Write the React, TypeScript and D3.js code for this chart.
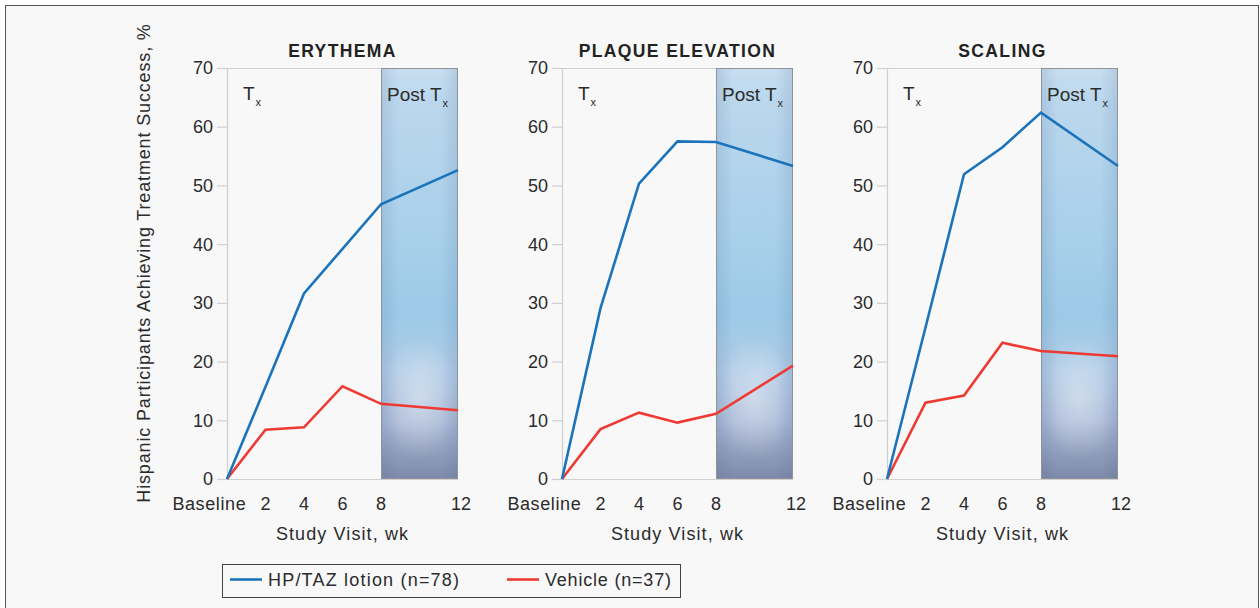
import React, { useEffect, useRef } from 'react';
import * as d3 from 'd3';

// study visits (weeks) and their axis labels
const weeks = [0, 2, 4, 6, 8, 12];
const weekLabels = ['Baseline', '2', '4', '6', '8', '12'];
const yTicks = [0, 10, 20, 30, 40, 50, 60, 70];

const panelTitles = ['ERYTHEMA', 'PLAQUE ELEVATION', 'SCALING'];

// % of participants achieving treatment success
const hpTazErythema = [0, 15.7, 31.6, 39.2, 46.8, 52.6];
const vehicleErythema = [0, 8.4, 8.8, 15.8, 12.8, 11.7];
const hpTazPlaque = [0, 29.1, 50.3, 57.5, 57.4, 53.3];
const vehiclePlaque = [0, 8.5, 11.3, 9.6, 11.1, 19.3];
const hpTazScaling = [0, 25.8, 51.9, 56.5, 62.4, 53.3];
const vehicleScaling = [0, 13.0, 14.2, 23.2, 21.8, 20.9];

const seriesNames = ['HP/TAZ lotion (n=78)', 'Vehicle (n=37)'];
const postTxStart = 8;

const WIDTH = 1260;
const HEIGHT = 608;
const BLUE = '#1b74bb';
const RED = '#ee3a32';
const FONT = '"Liberation Sans", Arial, sans-serif';
const TEXT = '#2b2b2b';

const App: React.FC = () => {
  const svgRef = useRef<SVGSVGElement>(null);

  useEffect(() => {
    if (!svgRef.current) return;
    const svg = d3.select(svgRef.current);
    svg.selectAll('*').remove();

    const panels = [
      { title: panelTitles[0], hp: hpTazErythema, veh: vehicleErythema },
      { title: panelTitles[1], hp: hpTazPlaque, veh: vehiclePlaque },
      { title: panelTitles[2], hp: hpTazScaling, veh: vehicleScaling }
    ];

    // gradient for the post-treatment band
    const defs = svg.append('defs');
    const lin = defs.append('linearGradient')
      .attr('id', 'postV').attr('x1', 0).attr('y1', 0).attr('x2', 0).attr('y2', 1);
    [
      ['0%', '#c8ddef'], ['8%', '#bbd7ed'], ['40%', '#a9d0ea'], ['60%', '#9ccae7'],
      ['74%', '#b0cbe6'], ['86%', '#a8b8d6'], ['100%', '#7d89a8']
    ].forEach(([o, c]) => lin.append('stop').attr('offset', o).attr('stop-color', c));

    const rad = defs.append('radialGradient')
      .attr('id', 'postGlow').attr('cx', 0.5).attr('cy', 0.8).attr('r', 0.5)
      .attr('gradientTransform', 'translate(0.5,0.8) scale(1,0.3) translate(-0.5,-0.8)');
    rad.append('stop').attr('offset', '0%').attr('stop-color', '#ffffff').attr('stop-opacity', 0.42);
    rad.append('stop').attr('offset', '100%').attr('stop-color', '#ffffff').attr('stop-opacity', 0);

    const edge = defs.append('linearGradient')
      .attr('id', 'postEdge').attr('x1', 0).attr('y1', 0).attr('x2', 1).attr('y2', 0);
    [
      ['0%', 0.14], ['22%', 0], ['78%', 0], ['100%', 0.14]
    ].forEach(([o, a]) => edge.append('stop').attr('offset', o as string)
      .attr('stop-color', '#3a5585').attr('stop-opacity', a as number));

    // outer frame
    svg.append('rect')
      .attr('x', 5.5).attr('y', 5.5).attr('width', 1253).attr('height', 620)
      .attr('fill', '#f8f8f8').attr('stroke', '#555').attr('stroke-width', 1);

    const top = 68;
    const bottom = 479;
    const lefts = [227, 562, 887];
    const plotW = 231;

    const yScale = d3.scaleLinear().domain([0, 70]).range([bottom, top]);

    panels.forEach((p, i) => {
      const x = d3.scaleLinear().domain([0, 12]).range([lefts[i], lefts[i] + plotW]);
      const g = svg.append('g');

      // post Tx band
      const bx = x(postTxStart);
      const bw = x(12) - bx;
      ['url(#postV)', 'url(#postGlow)', 'url(#postEdge)'].forEach(f => {
        g.append('rect').attr('x', bx).attr('y', top).attr('width', bw)
          .attr('height', bottom - top).attr('fill', f);
      });
      g.append('rect').attr('x', bx + 0.5).attr('y', top + 0.5).attr('width', bw - 1)
        .attr('height', bottom - top - 1).attr('fill', 'none')
        .attr('stroke', '#8e939c').attr('stroke-width', 1);

      // axis frame
      g.append('path')
        .attr('d', `M${x(0) - 10},${bottom + 0.5}H${x(12)}M${x(0) + 0.5},${bottom}V${top + 0.5}H${bx}`)
        .attr('fill', 'none').attr('stroke', '#cfcfcf').attr('stroke-width', 1.2);

      // y ticks
      yTicks.forEach(t => {
        g.append('line')
          .attr('x1', x(0) - 10).attr('x2', x(0))
          .attr('y1', yScale(t) + 0.5).attr('y2', yScale(t) + 0.5)
          .attr('stroke', '#cfcfcf').attr('stroke-width', 1.2);
        g.append('text')
          .attr('x', x(0) - 14).attr('y', yScale(t)).attr('dy', '0.36em')
          .attr('text-anchor', 'end')
          .style('font-family', FONT).style('font-size', '18px').style('fill', TEXT)
          .text(t);
      });

      // x tick labels
      weeks.forEach((w, k) => {
        const isBase = k === 0;
        g.append('text')
          .attr('x', isBase ? x(1) : x(w) + (w === 12 ? 3 : 0))
          .attr('y', 510)
          .attr('text-anchor', isBase ? 'end' : 'middle')
          .style('font-family', FONT).style('font-size', '18px').style('fill', TEXT)
          .style('letter-spacing', isBase ? '0.6px' : '0px')
          .text(weekLabels[k]);
      });

      g.append('text')
        .attr('x', x(6)).attr('y', 540).attr('text-anchor', 'middle')
        .style('font-family', FONT).style('font-size', '18px').style('fill', TEXT)
        .style('letter-spacing', '1.1px')
        .text('Study Visit, wk');

      // title
      g.append('text')
        .attr('x', x(6)).attr('y', 57).attr('text-anchor', 'middle')
        .style('font-family', FONT).style('font-size', '17.5px').style('font-weight', 'bold')
        .style('letter-spacing', '1.4px').style('fill', '#222')
        .text(p.title);

      // Tx / Post Tx labels
      const tx = g.append('text')
        .attr('x', x(0) + 16).attr('y', 100)
        .style('font-family', FONT).style('font-size', '19px').style('fill', TEXT);
      tx.append('tspan').text('T');
      tx.append('tspan').attr('dx', 1).attr('dy', 6).style('font-size', '11px').text('x');

      const ptx = g.append('text')
        .attr('x', bx + 6).attr('y', 100.5)
        .style('font-family', FONT).style('font-size', '19px').style('fill', TEXT);
      ptx.append('tspan').text('Post T');
      ptx.append('tspan').attr('dx', 1).attr('dy', 6).style('font-size', '11px').text('x');

      // lines
      const line = d3.line<number>()
        .x((_, k) => x(weeks[k]))
        .y(d => yScale(d));

      [[p.veh, RED], [p.hp, BLUE]].forEach(([vals, color]) => {
        g.append('path')
          .datum(vals as number[])
          .attr('d', line)
          .attr('fill', 'none')
          .attr('stroke', color as string)
          .attr('stroke-width', 2.6)
          .attr('stroke-linejoin', 'miter');
      });
    });

    // y axis title
    svg.append('text')
      .attr('transform', 'rotate(-90)')
      .attr('x', -263).attr('y', 150)
      .attr('text-anchor', 'middle')
      .style('font-family', FONT).style('font-size', '18px').style('fill', TEXT)
      .style('letter-spacing', '0.85px')
      .text('Hispanic Participants Achieving Treatment Success, %');

    // legend
    const lg = svg.append('g');
    lg.append('rect')
      .attr('x', 222.5).attr('y', 564.5).attr('width', 458).attr('height', 33)
      .attr('fill', 'none').attr('stroke', '#444').attr('stroke-width', 1);
    const items = [
      { name: seriesNames[0], color: BLUE, x: 230, ls: '1.2px' },
      { name: seriesNames[1], color: RED, x: 507, ls: '0.8px' }
    ];
    items.forEach(it => {
      lg.append('line')
        .attr('x1', it.x).attr('x2', it.x + 32).attr('y1', 579.5).attr('y2', 579.5)
        .attr('stroke', it.color).attr('stroke-width', 2.6);
      lg.append('text')
        .attr('x', it.x + 38).attr('y', 586)
        .style('font-family', FONT).style('font-size', '18px').style('fill', TEXT)
        .style('letter-spacing', it.ls)
        .text(it.name);
    });
  }, []);

  return (
    <svg
      ref={svgRef}
      width={WIDTH}
      height={HEIGHT}
      style={{ position: 'absolute', left: 0, top: 0, background: '#ffffff' }}
    />
  );
};

export default App;
